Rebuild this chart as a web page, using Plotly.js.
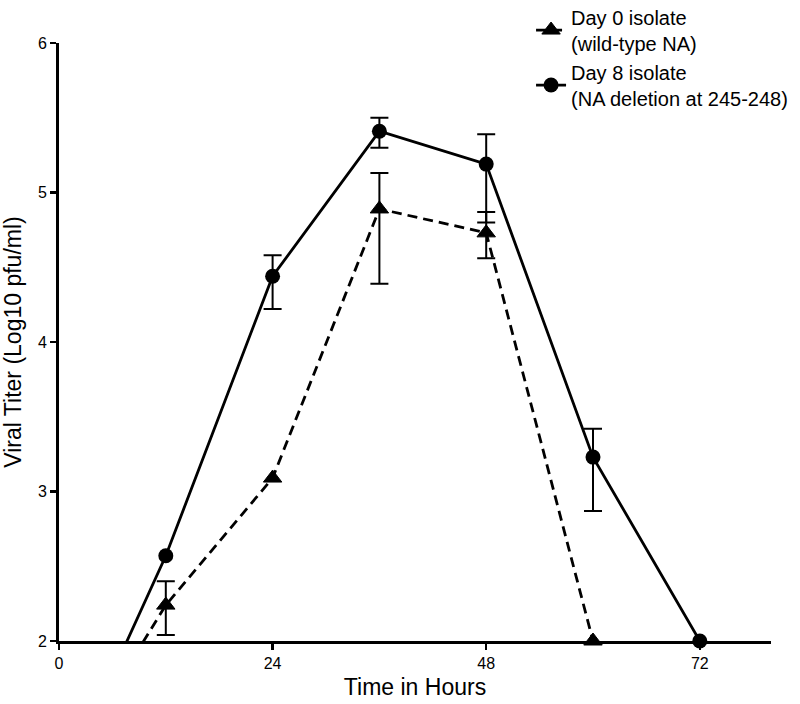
<!DOCTYPE html>
<html>
<head>
<meta charset="utf-8">
<script src="https://cdn.plot.ly/plotly-3.0.1.min.js"></script>
<style>html,body{margin:0;padding:0;background:#fff;}#chart{width:800px;height:704px;}</style>
</head>
<body>
<div id="chart"></div>
<script>
// Time points (hours post infection)
const hours = [0, 12, 24, 36, 48, 60, 72];

// Day 0 isolate (wild-type NA)
const day0Name = "Day 0 isolate<br>(wild-type NA)";
const day0Titer = [1.08, 2.24, 3.09, 4.89, 4.73, 2.0, null];
const day0ErrPlus = [NaN, 0.16, NaN, 0.24, 0.14, NaN, NaN];
const day0ErrMinus = [NaN, 0.20, NaN, 0.50, 0.17, NaN, NaN];

// Day 8 isolate (NA deletion at 245-248)
const day8Name = "Day 8 isolate<br>(NA deletion at 245-248)";
const day8Titer = [1.0, 2.57, 4.44, 5.41, 5.19, 3.23, 2.0];
const day8ErrPlus = [NaN, NaN, 0.14, 0.09, 0.20, 0.19, NaN];
const day8ErrMinus = [NaN, NaN, 0.22, 0.11, 0.39, 0.36, NaN];

// Axis ticks
const xTicks = [0, 24, 48, 72];
const yTicks = [2, 3, 4, 5, 6];

const FONT = "Liberation Sans, Arial, Helvetica, sans-serif";

const traces = [
  {
    x: hours, y: day0Titer, name: day0Name,
    type: "scatter", mode: "lines+markers", cliponaxis: false,
    line: {color: "#000", width: 2.8, dash: "10px,6px"},
    marker: {symbol: "triangle-up", size: 16, color: "#000", line: {color: "#000", width: 1}},
    error_y: {type: "data", symmetric: false, array: day0ErrPlus, arrayminus: day0ErrMinus,
              color: "#000", thickness: 2, width: 9}
  },
  {
    x: hours, y: day8Titer, name: day8Name,
    type: "scatter", mode: "lines+markers", cliponaxis: false,
    line: {color: "#000", width: 2.8},
    marker: {symbol: "circle", size: 15, color: "#000"},
    error_y: {type: "data", symmetric: false, array: day8ErrPlus, arrayminus: day8ErrMinus,
              color: "#000", thickness: 2, width: 9}
  }
];

const layout = {
  width: 800, height: 704,
  paper_bgcolor: "#fff", plot_bgcolor: "#fff",
  font: {family: FONT, color: "#000", size: 16},
  margin: {l: 59, r: 29, t: 43, b: 63, pad: 0, autoexpand: false},
  showlegend: true,
  legend: {
    x: 0.663, y: 1.076, xanchor: "left", yanchor: "top",
    font: {family: FONT, size: 20, color: "#000"},
    bgcolor: "rgba(0,0,0,0)", borderwidth: 0, tracegroupgap: 0
  },
  xaxis: {
    range: [0, 80], tickmode: "array", tickvals: xTicks,
    showgrid: false, zeroline: false, showline: true, linecolor: "#000", linewidth: 3,
    ticks: "outside", ticklen: 6, tickwidth: 2.5, tickcolor: "#000",
    tickfont: {family: FONT, size: 16},
    title: {text: "Time in Hours", font: {family: FONT, size: 23}, standoff: 8}
  },
  yaxis: {
    range: [2, 6], tickmode: "array", tickvals: yTicks,
    showgrid: false, zeroline: false, showline: true, linecolor: "#000", linewidth: 3,
    ticks: "outside", ticklen: 6, tickwidth: 2.5, tickcolor: "#000",
    tickfont: {family: FONT, size: 16},
    title: {text: "Viral Titer (Log10 pfu/ml)", font: {family: FONT, size: 23}}
  }
};

Plotly.newPlot("chart", traces, layout, {displayModeBar: false, staticPlot: true});
</script>
</body>
</html>
